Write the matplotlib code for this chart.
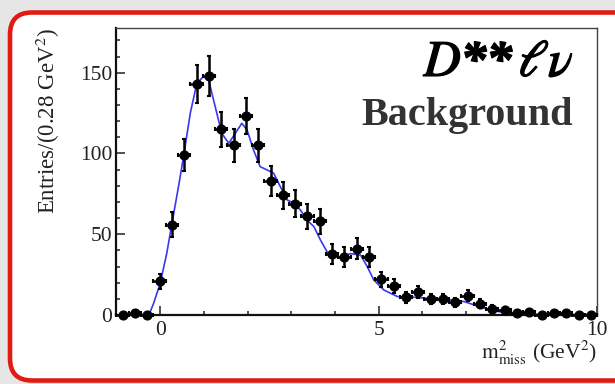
import matplotlib.pyplot as plt
import matplotlib.patheffects as pe
from matplotlib.patches import FancyBboxPatch, Rectangle
from matplotlib.ticker import MultipleLocator
import numpy as np

plt.rcParams['font.family'] = ['Liberation Serif', 'DejaVu Serif']
plt.rcParams['mathtext.fontset'] = 'stix'

# data points, bins of 0.28 GeV^2
bin_centers = [-0.859, -0.577, -0.295, -0.013, 0.269, 0.551, 0.833, 1.115, 1.397,
               1.679, 1.962, 2.244, 2.526, 2.808, 3.090, 3.372, 3.654, 3.936,
               4.218, 4.500, 4.782, 5.064, 5.346, 5.628, 5.910, 6.192, 6.474,
               6.756, 7.038, 7.321, 7.603, 7.885, 8.167, 8.449, 8.731, 9.013,
               9.295, 9.577, 9.859]
counts = [0, 1, 0, 21, 56, 99, 143, 148, 115, 105, 123, 105, 83, 74, 69, 61, 58,
          38, 36, 41, 36, 22, 18, 11, 14, 10, 10, 8, 12, 7, 4, 3, 1, 2, 0, 1, 1,
          0, 0]
count_errors = [0, 1, 0, 4.6, 7.5, 10, 12, 12.2, 10.7, 10.2, 11.1, 10.2, 9.1,
                8.6, 8.3, 7.8, 7.6, 6.2, 6, 6.4, 6, 4.7, 4.2, 3.3, 3.7, 3.2, 3.2,
                2.8, 3.5, 2.6, 2, 1.7, 1, 1.4, 0, 1, 1, 0, 0]
half_bin = 0.141

# fitted curve
fit_x = [-1.0, -0.30, -0.22, -0.15, 0.0, 0.15, 0.27, 0.42, 0.535, 0.69, 0.84,
         0.99, 1.11, 1.26, 1.41, 1.57, 1.72, 1.87, 1.99, 2.14, 2.29, 2.45, 2.60,
         2.75, 2.91, 3.06, 3.21, 3.36, 3.52, 3.67, 3.82, 3.97, 4.13, 4.36, 4.59,
         4.74, 4.89, 5.12, 5.43, 5.81, 6.27, 6.65, 6.96, 7.26, 7.57, 7.95, 8.56,
         10.0]
fit_y = [0, 0.3, 2.5, 7.2, 19.6, 38, 56.8, 79.5, 98, 125, 143.5, 147.6, 145.5,
         129, 112.5, 106.3, 112.5, 118.7, 114.5, 102, 91.8, 89.8, 87.7, 79.5,
         71.2, 69.2, 65, 58.8, 54.7, 46.4, 39.2, 36.1, 35.7, 38, 37, 30, 21.7,
         15.5, 11.4, 11, 9.9, 9.3, 8.3, 5.6, 3.1, 1, 0.5, 0.2]

x_ticks = [0, 5, 10]
y_ticks = [0, 50, 100, 150]

fig = plt.figure(figsize=(6.15, 3.84), dpi=100)

# slide-like background with the red rounded frame
bg = fig.add_axes([0, 0, 1, 1])
bg.set_xlim(0, 615)
bg.set_ylim(384, 0)
bg.axis('off')
bg.add_patch(Rectangle((0, 0), 615, 384, color='#e6e6e6'))
band = np.array([[0.97, 0.95, 0.88], [0.96, 0.94, 0.85], [0.92, 0.88, 0.62],
                 [0.86, 0.80, 0.42], [0.86, 0.86, 0.84], [0.80, 0.80, 0.80],
                 [0.74, 0.74, 0.74], [0.68, 0.68, 0.68], [0.64, 0.64, 0.64],
                 [0.62, 0.62, 0.62], [0.60, 0.60, 0.60], [0.60, 0.60, 0.60]])
bg.imshow(band[:, None, :], extent=[0, 615, 12, 0], aspect='auto')
frame = FancyBboxPatch((10, 12.5), 640, 368, boxstyle='round,pad=0,rounding_size=22',
                       ec='#e01c12', fc='white', lw=3.3)
bg.add_patch(frame)
shade = np.linspace(0.55, 0, 12)
shadow = bg.imshow(np.dstack([np.full((12, 1), 0.5)] * 3 + [shade[:, None]]),
                   extent=[10, 615, 26, 14], aspect='auto')
shadow.set_clip_path(frame)
shade_l = np.linspace(0.35, 0, 10)
shadow_l = bg.imshow(np.dstack([np.full((1, 10), 0.5)] * 3 + [shade_l[None, :]]),
                     extent=[12, 22, 380, 14], aspect='auto')
shadow_l.set_clip_path(frame)
bg.set_xlim(0, 615)
bg.set_ylim(384, 0)

ax = fig.add_axes([0.1894, 0.1797, 0.7813, 0.7466])
ax.set_facecolor('white')

ax.plot(fit_x, fit_y, color='#3838f0', lw=1.2, zorder=2)
ax.errorbar(bin_centers, counts, yerr=count_errors, xerr=half_bin, fmt='o',
            color='black', ms=6.3, elinewidth=1.8, capsize=1.5, capthick=1.5,
            zorder=3, clip_on=False)

ax.set_xlim(-1, 10)
ax.set_ylim(0, 177.5)
ax.set_xticks(x_ticks)
ax.set_yticks(y_ticks)
ax.xaxis.set_minor_locator(MultipleLocator(1))
ax.yaxis.set_minor_locator(MultipleLocator(10))
ax.tick_params(which='both', direction='in', colors='#222222', labelsize=15.5,
               width=1.1)
ax.tick_params(which='major', length=6.5)
ax.tick_params(which='minor', length=3.2)
ax.tick_params(axis='x', pad=4)
ax.tick_params(axis='y', pad=3)
for s in ax.spines.values():
    s.set_linewidth(1.0)
    s.set_color('#444444')
ax.spines['left'].set_linewidth(1.6)
ax.spines['left'].set_color('#111111')
ax.spines['bottom'].set_linewidth(1.6)
ax.spines['bottom'].set_color('#111111')

fig.text(48 / 615, 1 - 28 / 384, r'Entries/(0.28 GeV$^{2}$)', rotation=90,
         ha='center', va='top', fontsize=16.5, color='#222222')
fig.text(597 / 615, 1 - 359 / 384, r'$\mathrm{m^{2}_{miss}}$ (GeV$^{2}$)',
         ha='right', va='baseline', fontsize=15.5, color='#222222')

fig.text(574 / 615, 1 - 76 / 384, r'$D$**$\,\ell\nu$', ha='right', va='baseline',
         fontsize=37, fontstyle='italic', fontweight='bold', color='black',
         path_effects=[pe.withStroke(linewidth=1.0, foreground='black')])
fig.text(573 / 615, 1 - 125 / 384, 'Background', ha='right', va='baseline',
         fontsize=29, fontweight='bold', color='#333333')

fig.savefig('out.png', dpi=100)
